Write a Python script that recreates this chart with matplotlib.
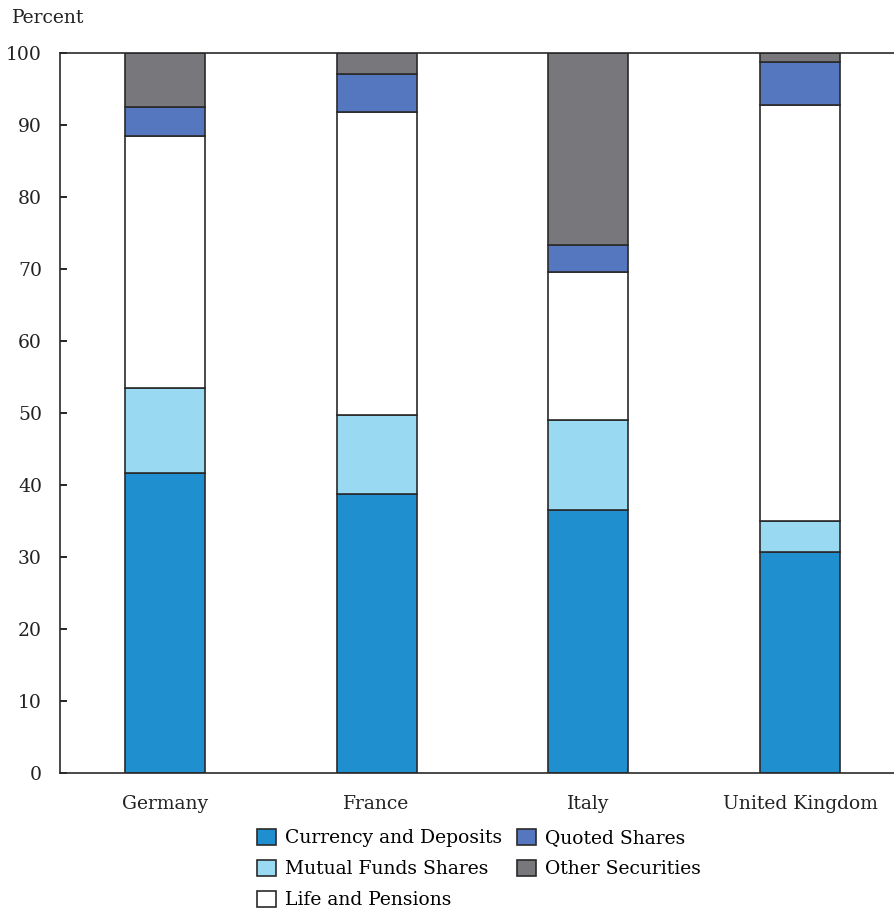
import matplotlib
matplotlib.use("Agg")
import matplotlib.pyplot as plt
import numpy as np

plt.rcParams['font.family'] = ['DejaVu Serif']

countries = ["Germany", "France", "Italy", "United Kingdom"]
currency = [41.7, 38.75, 36.5, 30.7]
mutual = [11.8, 10.95, 12.5, 4.3]
life = [35.0, 42.1, 20.6, 57.8]
quoted = [4.0, 5.3, 3.7, 5.95]
other = [7.5, 2.9, 26.7, 1.25]

series = [
    ("Currency and Deposits", currency, "#1f8fcf"),
    ("Mutual Funds Shares", mutual, "#99d9f1"),
    ("Life and Pensions", life, "#ffffff"),
    ("Quoted Shares", quoted, "#5577bf"),
    ("Other Securities", other, "#78777c"),
]

fig = plt.figure(figsize=(8.95, 9.13), dpi=100)
ax = fig.add_axes([60/895, 140/913, 1 - 60/895, 720/913])

x = np.arange(len(countries))
bottom = np.zeros(len(countries))
handles = []
for name, vals, col in series:
    b = ax.bar(x, vals, width=0.377, bottom=bottom, color=col,
               edgecolor="#2a2a2a", linewidth=1.2, label=name)
    bottom += np.array(vals)
    handles.append(b)

fs = 13.5
ax.set_xlim(-0.495, 3.448)
ax.set_ylim(0, 100)
ax.set_yticks(range(0, 101, 10))
ax.set_xticks(x)
ax.set_xticklabels(countries, fontsize=fs, color="#222222")
ax.tick_params(axis='x', length=0, pad=16)
ax.tick_params(axis='y', direction='in', length=5, width=1.2, labelsize=fs,
               labelcolor="#222222", pad=13)
for s in ['left', 'bottom', 'top']:
    ax.spines[s].set_linewidth(1.2)
    ax.spines[s].set_color("#2a2a2a")
ax.spines['right'].set_visible(False)

fig.text(12/895, 1 - 18/913, "Percent", fontsize=fs, color="#222222",
         va='center', ha='left')

leg = fig.legend(handles=handles, labels=[s[0] for s in series], ncol=2,
                 loc='center', bbox_to_anchor=(479/895, 1 - 869/913),
                 frameon=False, fontsize=fs, handlelength=1.0, handleheight=1.0,
                 handletextpad=0.5, columnspacing=0.8, labelspacing=0.65,
                 borderpad=0)

fig.savefig("out.png", dpi=100)
